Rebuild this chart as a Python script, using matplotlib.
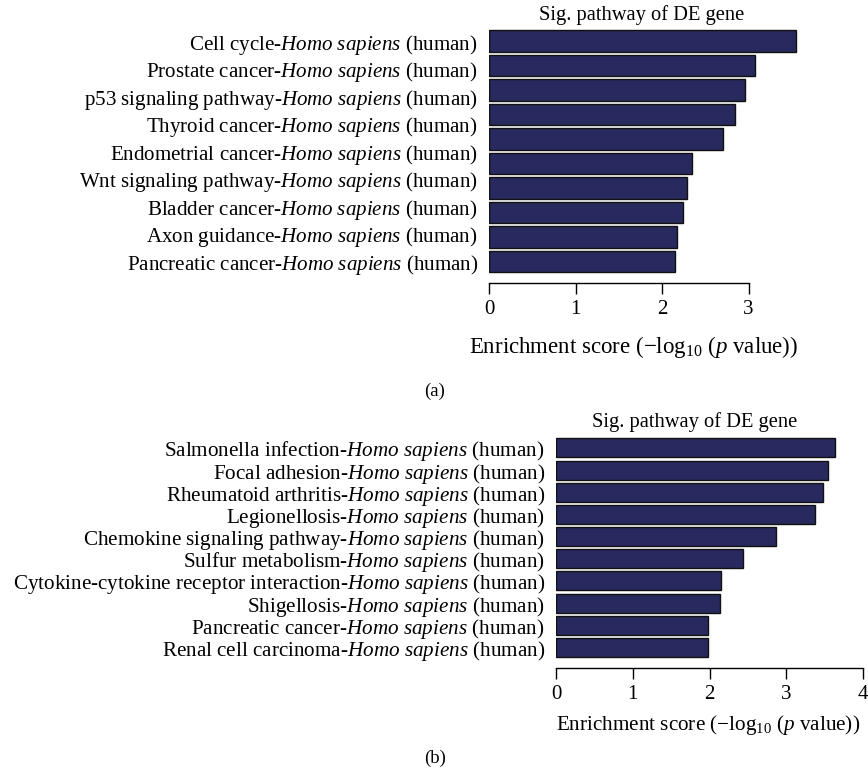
import matplotlib
matplotlib.use("Agg")
import matplotlib.pyplot as plt
import numpy as np

plt.rcParams["font.family"] = "Liberation Serif"
plt.rcParams["mathtext.fontset"] = "custom"
plt.rcParams["mathtext.rm"] = "Liberation Serif"
plt.rcParams["mathtext.it"] = "Liberation Serif:italic"

BAR = "#28295e"
W, H = 868, 782

# panel (a): 10 bars, but only 9 pathway labels in the source figure
labels_a = [
    "Cell cycle",
    "Prostate cancer",
    "p53 signaling pathway",
    "Thyroid cancer",
    "Endometrial cancer",
    "Wnt signaling pathway",
    "Bladder cancer",
    "Axon guidance",
    "Pancreatic cancer",
]
scores_a = [3.55, 3.08, 2.96, 2.84, 2.71, 2.35, 2.29, 2.24, 2.17, 2.15]

# panel (b)
labels_b = [
    "Salmonella infection",
    "Focal adhesion",
    "Rheumatoid arthritis",
    "Legionellosis",
    "Chemokine signaling pathway",
    "Sulfur metabolism",
    "Cytokine-cytokine receptor interaction",
    "Shigellosis",
    "Pancreatic cancer",
    "Renal cell carcinoma",
]
scores_b = [3.64, 3.54, 3.48, 3.37, 2.87, 2.44, 2.15, 2.14, 1.98, 1.98]

TITLE = "Sig. pathway of DE gene"
XLABEL = r"Enrichment score (−log$_{10}$ ($\it{p}$ value))"
SUFFIX = r"-$\it{Homo\ sapiens}$ (human)"


def box(left, top, right, bottom):
    # pixel box -> figure fraction rect
    return [left / W, 1 - bottom / H, (right - left) / W, (bottom - top) / H]


def panel(fig, rect, labels, scores, ylim, bar_h, spine_max, fs, tick_fs):
    ax = fig.add_axes(rect)
    y = np.arange(len(scores))
    ax.barh(y, scores, height=bar_h, color=BAR, edgecolor="#111111", lw=1.0)
    ax.set_xlim(0, 4)
    ax.set_ylim(*ylim)
    ticks = np.linspace(0, len(scores) - 1, len(labels))
    ax.set_yticks(ticks)
    ax.set_yticklabels([lab + SUFFIX for lab in labels], fontsize=fs)
    ax.tick_params(axis="y", length=0, pad=8)
    ax.set_xticks(range(spine_max + 1))
    ax.tick_params(axis="x", length=8, width=1, labelsize=tick_fs, pad=4)
    for s in ("top", "right", "left"):
        ax.spines[s].set_visible(False)
    ax.spines["bottom"].set_bounds(0, spine_max)
    ax.spines["bottom"].set_linewidth(1)
    return ax


fig = plt.figure(figsize=(W / 100, H / 100), dpi=100)

ax_a = panel(fig, box(489, 29, 835, 283), labels_a, scores_a,
             (9.88, -0.49), 0.88, 3, 15.1, 15)
ax_a.set_xlabel(XLABEL, fontsize=16.5, va="center")
ax_a.xaxis.set_label_coords(0.419, -0.252)
fig.text(642 / W, 1 - 15 / H, TITLE, fontsize=14.8, ha="center", va="center")
fig.text(435 / W, 1 - 391 / H, "(a)", fontsize=13.5, ha="center", va="center")

ax_b = panel(fig, box(556, 437, 863, 668), labels_b, scores_b,
             (9.93, -0.49), 0.855, 4, 15.2, 15)
ax_b.set_xlabel(XLABEL, fontsize=15.2, va="center")
ax_b.xaxis.set_label_coords(0.495, -0.245)
fig.text(695 / W, 1 - 422 / H, TITLE, fontsize=14.8, ha="center", va="center")
fig.text(435 / W, 1 - 758 / H, "(b)", fontsize=13.5, ha="center", va="center")

fig.savefig("out.png", dpi=100, facecolor="white")
